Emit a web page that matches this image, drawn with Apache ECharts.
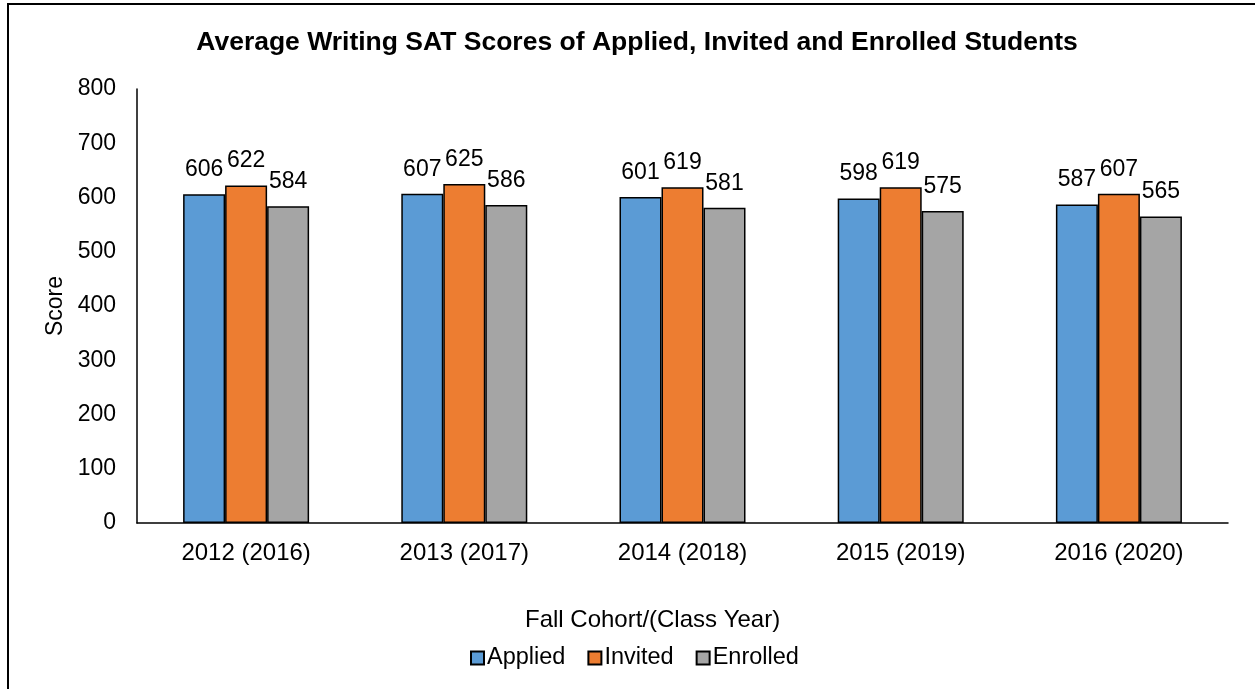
<!DOCTYPE html>
<html>
<head>
<meta charset="utf-8">
<script src="https://cdn.jsdelivr.net/npm/echarts@6/dist/echarts.min.js"></script>
<style>
  html, body { margin: 0; padding: 0; background: #fff; }
  #main { width: 1255px; height: 689px; }
</style>
</head>
<body>
<div id="main"></div>
<script>
// 数据
const cohorts = ['2012 (2016)', '2013 (2017)', '2014 (2018)', '2015 (2019)', '2016 (2020)']
const applied = [606, 607, 601, 598, 587]
const invited = [622, 625, 619, 619, 607]
const enrolled = [584, 586, 581, 575, 565]
const yTicks = [0, 100, 200, 300, 400, 500, 600, 700, 800]

const font = 'Liberation Sans, Arial, sans-serif'

const barSeries = (name, data, color) => ({
  name: name,
  type: 'bar',
  data: data,
  barWidth: 42,
  barGap: '0%',
  itemStyle: { color: color, borderColor: '#000', borderWidth: 1.5 },
  label: {
    show: true,
    position: 'top',
    distance: 13,
    color: '#000',
    fontFamily: font,
    fontSize: 23,
  },
})

const myChart = echarts.init(document.getElementById('main'))
const option = {
  animation: false,
  backgroundColor: '#fff',
  title: {
    text: 'Average Writing SAT Scores of Applied, Invited and Enrolled Students',
    left: 632,
    textAlign: 'center',
    top: 24,
    textStyle: { fontFamily: font, fontSize: 26.5, fontWeight: 'bold', color: '#000' },
  },
  legend: {
    data: ['Applied', 'Invited', 'Enrolled'],
    left: 470,
    top: 646,
    padding: 0,
    icon: 'rect',
    itemWidth: 13,
    itemHeight: 13,
    itemGap: 22,
    textStyle: { fontFamily: font, fontSize: 23.5, color: '#000', padding: [0, 0, 0, -2] },
  },
  grid: { left: 137, right: 27, top: 89, bottom: 166 },
  xAxis: {
    type: 'category',
    data: cohorts,
    axisLine: { lineStyle: { color: '#000', width: 1.5 } },
    axisTick: { show: false },
    axisLabel: { color: '#000', fontFamily: font, fontSize: 24, margin: 18 },
  },
  yAxis: {
    type: 'value',
    min: yTicks[0],
    max: yTicks[yTicks.length - 1],
    interval: 100,
    name: 'Score',
    nameLocation: 'middle',
    nameGap: 68,
    nameTextStyle: { fontFamily: font, fontSize: 23, color: '#000' },
    axisLine: { show: true, lineStyle: { color: '#000', width: 1.5 } },
    axisTick: { show: false },
    splitLine: { show: false },
    axisLabel: { color: '#000', fontFamily: font, fontSize: 23, margin: 21 },
  },
  graphic: [
    {
      type: 'rect',
      shape: { x: 8, y: 4, width: 1400, height: 900 },
      style: { fill: 'none', stroke: '#000', lineWidth: 2 },
      silent: true,
    },
    {
      type: 'text',
      left: 525,
      top: 608,
      style: { text: 'Fall Cohort/(Class Year)', fontFamily: font, fontSize: 24, fill: '#000' },
    },
  ],
  series: [
    barSeries('Applied', applied, '#5B9BD5'),
    barSeries('Invited', invited, '#ED7D31'),
    barSeries('Enrolled', enrolled, '#A5A5A5'),
  ],
}
myChart.setOption(option)
</script>
</body>
</html>
